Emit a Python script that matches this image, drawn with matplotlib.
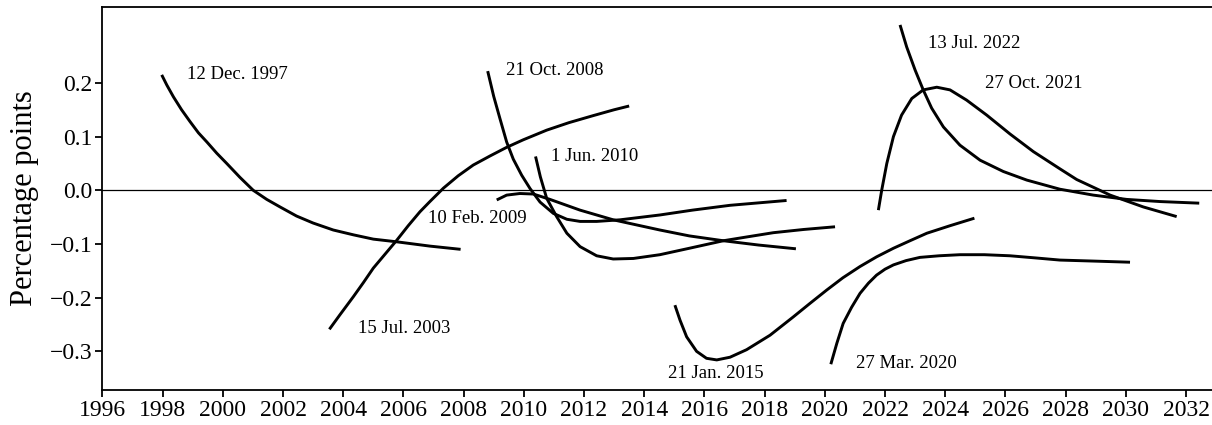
import matplotlib
matplotlib.use("Agg")
import matplotlib.pyplot as plt

plt.rcParams["font.family"] = ["Liberation Serif", "DejaVu Serif"]

# Each announcement: (years, percentage-point effect)
dec1997_x = [1997.97, 1998.14, 1998.36, 1998.63, 1998.91, 1999.19, 1999.47, 1999.8, 2000.13, 2000.57,
             2001.01, 2001.46, 2001.9, 2002.45, 2003.0, 2003.67, 2004.34, 2005.0, 2005.78, 2006.88, 2007.9]
dec1997_y = [0.215, 0.196, 0.174, 0.150, 0.128, 0.107, 0.090, 0.069, 0.050, 0.024,
             0.0, -0.017, -0.031, -0.048, -0.061, -0.074, -0.083, -0.091, -0.096, -0.104, -0.110]

jul2003_x = [2003.54, 2003.89, 2004.34, 2004.67, 2005.0, 2005.39, 2005.78, 2006.16, 2006.55, 2006.88,
             2007.33, 2007.82, 2008.32, 2008.88, 2009.43, 2009.98, 2010.76, 2011.5, 2012.3, 2013.0, 2013.5]
jul2003_y = [-0.259, -0.232, -0.198, -0.172, -0.145, -0.119, -0.093, -0.066, -0.040, -0.021,
             0.004, 0.027, 0.047, 0.064, 0.080, 0.094, 0.112, 0.126, 0.139, 0.150, 0.157]

oct2008_x = [2008.8, 2009.0, 2009.2, 2009.43, 2009.65, 2009.93, 2010.21, 2010.54, 2010.98, 2011.43, 2011.87,
             2012.42, 2013.2, 2014.52, 2015.6, 2016.85, 2018.73]
oct2008_y = [0.222, 0.175, 0.135, 0.090, 0.058, 0.028, 0.003, -0.022, -0.043, -0.054, -0.058,
             -0.058, -0.055, -0.046, -0.037, -0.028, -0.019]

feb2009_x = [2009.1, 2009.43, 2009.87, 2010.32, 2010.87, 2011.87, 2012.97, 2014.52, 2015.5, 2016.63, 2017.8, 2019.04]
feb2009_y = [-0.018, -0.009, -0.006, -0.007, -0.017, -0.037, -0.055, -0.074, -0.085, -0.094, -0.102, -0.109]

jun2010_x = [2010.39, 2010.55, 2010.76, 2011.09, 2011.43, 2011.87, 2012.42, 2012.97, 2013.64, 2014.52,
             2015.5, 2016.63, 2017.4, 2018.29, 2019.3, 2020.34]
jun2010_y = [0.063, 0.025, -0.015, -0.049, -0.080, -0.105, -0.122, -0.128, -0.127, -0.120,
             -0.108, -0.094, -0.087, -0.079, -0.073, -0.068]

jan2015_x = [2015.02, 2015.19, 2015.41, 2015.74, 2016.07, 2016.41, 2016.85, 2017.4, 2018.18, 2018.95,
             2019.5, 2020.06, 2020.6, 2021.17, 2021.72, 2022.28, 2022.83, 2023.39, 2024.16, 2024.97]
jan2015_y = [-0.214, -0.242, -0.273, -0.300, -0.313, -0.316, -0.311, -0.297, -0.270, -0.236,
             -0.211, -0.186, -0.163, -0.142, -0.124, -0.108, -0.094, -0.080, -0.066, -0.052]

mar2020_x = [2020.2, 2020.4, 2020.61, 2020.89, 2021.17, 2021.45, 2021.72, 2022.0, 2022.28, 2022.7,
             2023.16, 2023.8, 2024.49, 2025.3, 2026.15, 2027.0, 2027.81, 2029.0, 2030.14]
mar2020_y = [-0.324, -0.285, -0.248, -0.218, -0.192, -0.173, -0.158, -0.147, -0.139, -0.131,
             -0.125, -0.122, -0.120, -0.120, -0.122, -0.126, -0.130, -0.132, -0.134]

oct2021_x = [2021.78, 2021.89, 2022.06, 2022.28, 2022.55, 2022.89, 2023.27, 2023.72, 2024.16, 2024.71,
             2025.38, 2026.15, 2026.93, 2027.81, 2028.37, 2029.48, 2030.58, 2031.69]
oct2021_y = [-0.037, 0.0, 0.050, 0.100, 0.140, 0.171, 0.187, 0.192, 0.187, 0.168,
             0.140, 0.105, 0.072, 0.040, 0.020, -0.009, -0.031, -0.049]

jul2022_x = [2022.5, 2022.72, 2023.0, 2023.27, 2023.55, 2023.94, 2024.49, 2025.16, 2025.93, 2026.71,
             2027.81, 2028.92, 2030.03, 2031.14, 2032.44]
jul2022_y = [0.308, 0.267, 0.224, 0.187, 0.153, 0.118, 0.084, 0.056, 0.035, 0.019,
             0.002, -0.009, -0.017, -0.021, -0.024]

series = [
    (dec1997_x, dec1997_y),
    (jul2003_x, jul2003_y),
    (oct2008_x, oct2008_y),
    (feb2009_x, feb2009_y),
    (jun2010_x, jun2010_y),
    (jan2015_x, jan2015_y),
    (mar2020_x, mar2020_y),
    (oct2021_x, oct2021_y),
    (jul2022_x, jul2022_y),
]

# Announcement labels and where they sit (year, value)
label_texts = ["12 Dec. 1997", "15 Jul. 2003", "21 Oct. 2008", "10 Feb. 2009", "1 Jun. 2010",
               "21 Jan. 2015", "27 Mar. 2020", "27 Oct. 2021", "13 Jul. 2022"]
label_x = [1998.8, 2004.5, 2009.4, 2006.83, 2010.9, 2014.8, 2021.03, 2025.32, 2023.44]
label_y = [0.215, -0.258, 0.224, -0.052, 0.063, -0.341, -0.322, 0.199, 0.274]

x_ticks = list(range(1996, 2033, 2))
y_ticks = [-0.3, -0.2, -0.1, 0.0, 0.1, 0.2]

fig = plt.figure(figsize=(12.12, 4.25), dpi=100)
ax = fig.add_axes([0.0845, 0.0824, 0.9164, 0.9006])

ax.axhline(0.0, color="black", lw=0.9, zorder=1)
for xs, ys in series:
    ax.plot(xs, ys, color="black", lw=2.1, solid_capstyle="butt",
            solid_joinstyle="round", zorder=2)

for t, lx, ly in zip(label_texts, label_x, label_y):
    ax.text(lx, ly, t, fontsize=13.5, ha="left", va="center")

ax.set_xlim(1996, 2032.9)
ax.set_ylim(-0.372, 0.341)
ax.set_xticks(x_ticks)
ax.set_xticklabels([str(v) for v in x_ticks])
ax.set_yticks(y_ticks)
ax.set_yticklabels([f"{v:.1f}".replace("-", "\u2212") for v in y_ticks])
ax.tick_params(axis="both", direction="out", length=5, width=1.3, labelsize=17, pad=2)
ax.set_ylabel("Percentage points", fontsize=22, labelpad=8)

ax.spines["right"].set_visible(False)
for s in ("left", "bottom", "top"):
    ax.spines[s].set_linewidth(1.3)

fig.savefig("out.png", dpi=100)
